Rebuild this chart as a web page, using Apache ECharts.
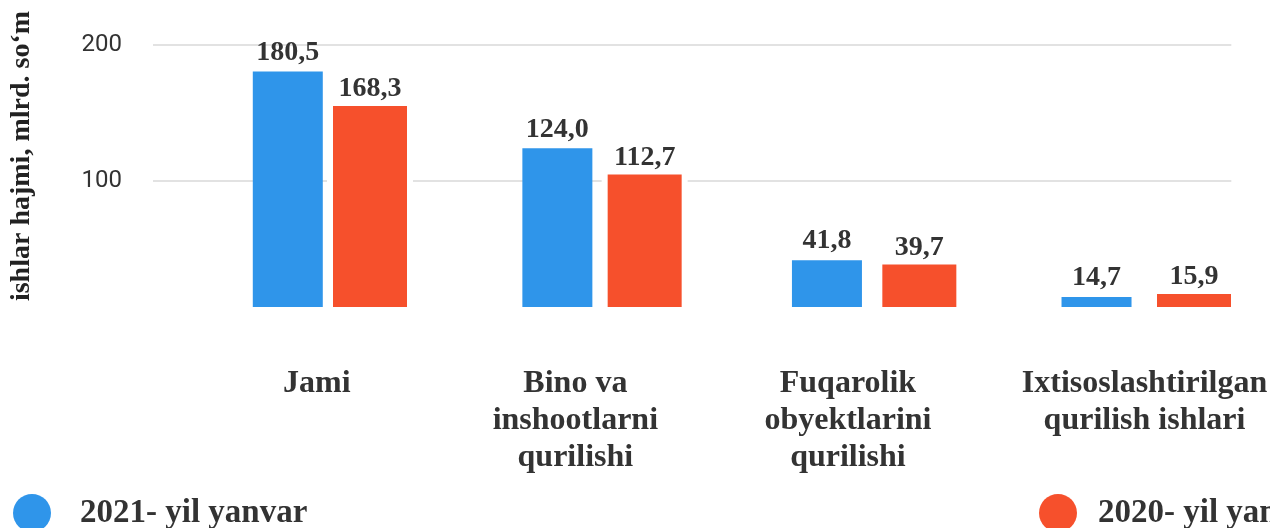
<!DOCTYPE html>
<html>
<head>
<meta charset="utf-8">
<script src="https://cdn.jsdelivr.net/npm/echarts@6/dist/echarts.min.js"></script>
<style>
html,body{margin:0;padding:0;background:#fff;}
#chart{width:1270px;height:528px;}
</style>
</head>
<body>
<div id="chart"></div>
<script>
// ---- data ----
const categories = ['Jami', 'Bino va\ninshootlarni\nqurilishi', 'Fuqarolik\nobyektlarini\nqurilishi', 'Ixtisoslashtirilgan\nqurilish ishlari'];
const series2021 = [180.5, 124.0, 41.8, 14.7];
const series2020 = [168.3, 112.7, 39.7, 15.9];
const yTicks = [100, 200];
const seriesNames = ['2021- yil yanvar', '2020- yil yanvar'];
const yAxisTitle = 'ishlar hajmi, mlrd. so‘m';

// ---- styling ----
const BLUE = '#2F95EA';
const RED = '#F6502C';
const SERIF = '"Liberation Serif", "Times New Roman", serif';
const labelShift = [29, 18, 21, 48];

const fmt = v => v.toFixed(1).replace('.', ',');

const rich = {};
labelShift.forEach((d, i) => {
  rich['c' + i] = {
    fontFamily: SERIF, fontWeight: 'bold', fontSize: 32, lineHeight: 37,
    color: '#333', padding: [0, 0, 0, 2 * d]
  };
});

const redGrid = { left: 370, width: 824, top: 45, height: 262 };
const redY = { min: 5.35, max: 217.7 };

const chart = echarts.init(document.getElementById('chart'));
chart.setOption({
  animation: false,
  backgroundColor: '#fff',
  grid: [
    { left: 153, width: 1080, top: 45, height: 262 },
    Object.assign({}, redGrid),
    Object.assign({}, redGrid)
  ],
  xAxis: [
    {
      type: 'category', gridIndex: 0, data: categories,
      axisLine: { show: false }, axisTick: { show: false },
      axisLabel: {
        interval: 0, margin: 58,
        formatter: (value, index) => value.split('\n').map(l => '{c' + index + '|' + l + '}').join('\n'),
        rich: rich
      }
    },
    { type: 'category', gridIndex: 1, data: categories, show: false, boundaryGap: false },
    { type: 'category', gridIndex: 2, data: categories, show: false, boundaryGap: false }
  ],
  yAxis: [
    {
      type: 'value', gridIndex: 0, min: 7.35, max: 200,
      axisLine: { show: false },
      axisTick: { show: false, customValues: yTicks },
      axisLabel: {
        customValues: yTicks, margin: 31,
        fontFamily: 'Roboto', fontSize: 24, color: '#333'
      },
      splitLine: { show: true, lineStyle: { color: '#e2e2e2', width: 2 } }
    },
    { type: 'value', gridIndex: 1, min: redY.min, max: redY.max, show: false, splitLine: { show: false } },
    { type: 'value', gridIndex: 2, min: redY.min, max: redY.max, show: false, splitLine: { show: false } }
  ],
  legend: [
    {
      data: [seriesNames[0]], left: 13, top: 494, padding: 0,
      icon: 'circle', itemWidth: 38, itemHeight: 38,
      textStyle: { fontFamily: SERIF, fontWeight: 'bold', fontSize: 33, color: '#333', padding: [0, 0, 0, 24] }
    },
    {
      data: [seriesNames[1]], left: 1039, top: 494, padding: 0,
      icon: 'circle', itemWidth: 38, itemHeight: 38,
      textStyle: { fontFamily: SERIF, fontWeight: 'bold', fontSize: 33, color: '#333', padding: [0, 0, 0, 16] }
    }
  ],
  graphic: [
    {
      type: 'text', x: 22, y: 156, rotation: Math.PI / 2,
      style: {
        text: yAxisTitle, fontFamily: SERIF, fontWeight: 'bold', fontSize: 28,
        fill: '#222', align: 'center', verticalAlign: 'middle'
      }
    }
  ],
  series: [
    {
      name: seriesNames[0], type: 'bar', xAxisIndex: 0, yAxisIndex: 0,
      data: series2021, barWidth: 70,
      itemStyle: { color: BLUE },
      label: {
        show: true, position: 'top', distance: 5,
        formatter: p => fmt(p.value),
        fontFamily: SERIF, fontWeight: 'bold', fontSize: 28, color: '#333'
      }
    },
    {
      // white halo behind the 2020 bars (gridline gap around them)
      type: 'bar', xAxisIndex: 2, yAxisIndex: 2, z: 1, silent: true,
      data: series2020, barWidth: 86,
      itemStyle: { color: '#ffffff' },
      label: { show: false }, tooltip: { show: false }
    },
    {
      name: seriesNames[1], type: 'bar', xAxisIndex: 1, yAxisIndex: 1, z: 3,
      data: series2020, barWidth: 74,
      itemStyle: { color: RED },
      label: {
        show: true, position: 'top', distance: 3,
        formatter: p => fmt(p.value),
        fontFamily: SERIF, fontWeight: 'bold', fontSize: 28, color: '#333'
      }
    }
  ]
});
</script>
</body>
</html>
